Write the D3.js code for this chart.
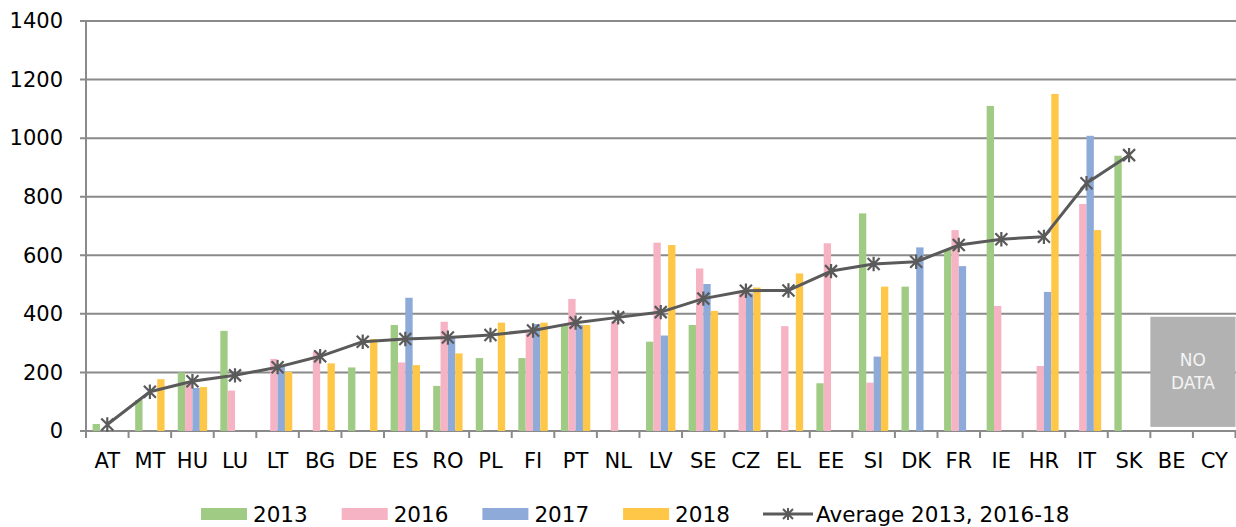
<!DOCTYPE html>
<html>
<head>
<meta charset="utf-8">
<script src="https://cdn.jsdelivr.net/npm/d3@7"></script>
<style>
  html, body { margin: 0; padding: 0; background: #fff; }
  svg text { font-family: "DejaVu Sans", Verdana, sans-serif; fill: #000; }
</style>
</head>
<body>
<svg id="chart" width="1236" height="527"></svg>
<script>
const categories = ['AT', 'MT', 'HU', 'LU', 'LT', 'BG', 'DE', 'ES', 'RO', 'PL', 'FI', 'PT', 'NL', 'LV',
  'SE', 'CZ', 'EL', 'EE', 'SI', 'DK', 'FR', 'IE', 'HR', 'IT', 'SK', 'BE', 'CY'];

const series = ['2013', '2016', '2017', '2018'];

const values2013 = [24, 106, 200, 342, null, null, 217, 362, 154, 249, 249, 362, null, 305,
  362, null, null, 163, 743, 493, 618, 1110, null, null, 940, null, null];
const values2016 = [null, null, 165, 138, 246, 271, null, 234, 373, null, 335, 451, 373, 643,
  555, 470, 358, 641, 165, null, 686, 427, 222, 775, null, null, null];
const values2017 = [null, null, 147, null, 222, null, null, 455, 318, null, 365, 362, null, 326,
  502, 470, null, null, 254, 627, 563, null, 475, 1008, null, null, null];
const values2018 = [null, 177, 150, null, 202, 231, 314, 225, 265, 370, 370, 362, null, 635,
  410, 490, 538, null, 493, null, null, null, 1151, 686, null, null, null];
const average = [22, 134, 170, 190, 218, 255, 305, 314, 319, 328, 343, 370, 388, 406,
  452, 479, 480, 546, 570, 578, 635, 655, 663, 846, 942, null, null];

const yTicks = [0, 200, 400, 600, 800, 1000, 1200, 1400];
const averageLabel = 'Average 2013, 2016-18';
const noDataCats = ['BE', 'CY'];
const noDataRange = [14, 390];   // box extent in data units
const noDataText = ['NO', 'DATA'];

const seriesValues = [values2013, values2016, values2017, values2018];
const colors = ['#a0cb84', '#f6b3c4', '#8eaad8', '#ffc748'];
const gridColor = '#8a8a8a';
const lineColor = '#5a5a5a';

const margin = { top: 21, right: 0.5, bottom: 96, left: 86 };
const width = 1236, height = 527;

const svg = d3.select('#chart');

const x = d3.scaleBand()
  .domain(categories)
  .range([margin.left, width - margin.right])
  .padding(0);

const bw = x.bandwidth();
const xSub = d3.scaleBand()
  .domain(series)
  .range([bw * 0.155, bw * 0.845])
  .padding(0);

const y = d3.scaleLinear()
  .domain([0, 1400])
  .range([height - margin.bottom, margin.top]);

// gridlines
svg.append('g')
  .selectAll('line')
  .data(yTicks)
  .join('line')
    .attr('x1', margin.left - 6)
    .attr('x2', width)
    .attr('y1', d => y(d))
    .attr('y2', d => y(d))
    .attr('stroke', gridColor)
    .attr('stroke-width', 2);

// y labels
svg.append('g')
  .selectAll('text')
  .data(yTicks)
  .join('text')
    .attr('x', 63)
    .attr('y', d => y(d))
    .attr('dy', '0.35em')
    .attr('text-anchor', 'end')
    .style('font-size', '21px')
    .text(d => d);

// y axis line
svg.append('line')
  .attr('x1', margin.left).attr('x2', margin.left)
  .attr('y1', y(1400)).attr('y2', y(0))
  .attr('stroke', gridColor)
  .attr('stroke-width', 2);

// no data box
const noData = svg.append('g');
const ndX0 = x(noDataCats[0]);
const ndX1 = x(noDataCats[noDataCats.length - 1]) + bw;
noData.append('rect')
  .attr('x', ndX0)
  .attr('y', y(noDataRange[1]))
  .attr('width', ndX1 - ndX0)
  .attr('height', y(noDataRange[0]) - y(noDataRange[1]))
  .attr('fill', '#b2b2b2');
noData.selectAll('text')
  .data(noDataText)
  .join('text')
    .attr('x', (ndX0 + ndX1) / 2)
    .attr('y', (d, i) => (y(noDataRange[0]) + y(noDataRange[1])) / 2 - 6 + i * 23)
    .attr('text-anchor', 'middle')
    .style('font-size', '17px')
    .style('fill', '#f4f4f4')
    .text(d => d);

// bars
const barData = [];
categories.forEach((c, i) => {
  series.forEach((s, j) => {
    const v = seriesValues[j][i];
    if (v != null) barData.push({ cat: c, series: s, value: v, color: colors[j] });
  });
});

svg.append('g')
  .selectAll('rect')
  .data(barData)
  .join('rect')
    .attr('x', d => x(d.cat) + xSub(d.series))
    .attr('y', d => y(d.value))
    .attr('width', xSub.bandwidth())
    .attr('height', d => y(0) - y(d.value))
    .attr('fill', d => d.color);

// x axis ticks (category boundaries)
const bounds = categories.map(c => x(c)).concat([x(categories[categories.length - 1]) + bw]);
svg.append('g')
  .selectAll('line')
  .data(bounds)
  .join('line')
    .attr('x1', d => d).attr('x2', d => d)
    .attr('y1', y(0)).attr('y2', y(0) + 7)
    .attr('stroke', gridColor)
    .attr('stroke-width', 2);

// x labels
svg.append('g')
  .selectAll('text')
  .data(categories)
  .join('text')
    .attr('x', d => x(d) + bw / 2)
    .attr('y', 468)
    .attr('text-anchor', 'middle')
    .style('font-size', '21px')
    .text(d => d);

// average line
const avgData = categories.map((c, i) => ({ cat: c, value: average[i] })).filter(d => d.value != null);
const line = d3.line()
  .x(d => x(d.cat) + bw / 2)
  .y(d => y(d.value));

svg.append('path')
  .datum(avgData)
  .attr('d', line)
  .attr('fill', 'none')
  .attr('stroke', lineColor)
  .attr('stroke-width', 3)
  .attr('stroke-linejoin', 'round');

const star = s => `M${-s},${-s}L${s},${s}M${-s},${s}L${s},${-s}M0,${-s * 1.2}L0,${s * 1.2}`;

svg.append('g')
  .selectAll('path')
  .data(avgData)
  .join('path')
    .attr('transform', d => `translate(${x(d.cat) + bw / 2},${y(d.value)})`)
    .attr('d', star(6))
    .attr('fill', 'none')
    .attr('stroke', lineColor)
    .attr('stroke-width', 2.2);

// legend
const legendY = 514;
const legendItems = series.map((s, i) => ({ label: s, color: colors[i], x: 201 + i * 140.7 }));
const legend = svg.append('g');
legend.selectAll('rect')
  .data(legendItems)
  .join('rect')
    .attr('x', d => d.x)
    .attr('y', legendY - 6)
    .attr('width', 46)
    .attr('height', 12)
    .attr('fill', d => d.color);
legend.selectAll('text.lab')
  .data(legendItems)
  .join('text')
    .attr('class', 'lab')
    .attr('x', d => d.x + 52)
    .attr('y', legendY)
    .attr('dy', '0.35em')
    .style('font-size', '21.5px')
    .text(d => d.label);

legend.append('line')
  .attr('x1', 763).attr('x2', 813)
  .attr('y1', legendY).attr('y2', legendY)
  .attr('stroke', lineColor)
  .attr('stroke-width', 3);
legend.append('path')
  .attr('transform', `translate(788,${legendY})`)
  .attr('d', star(5))
  .attr('fill', 'none')
  .attr('stroke', lineColor)
  .attr('stroke-width', 2);
legend.append('text')
  .attr('x', 816)
  .attr('y', legendY)
  .attr('dy', '0.35em')
  .style('font-size', '21.5px')
  .text(averageLabel);
</script>
</body>
</html>
